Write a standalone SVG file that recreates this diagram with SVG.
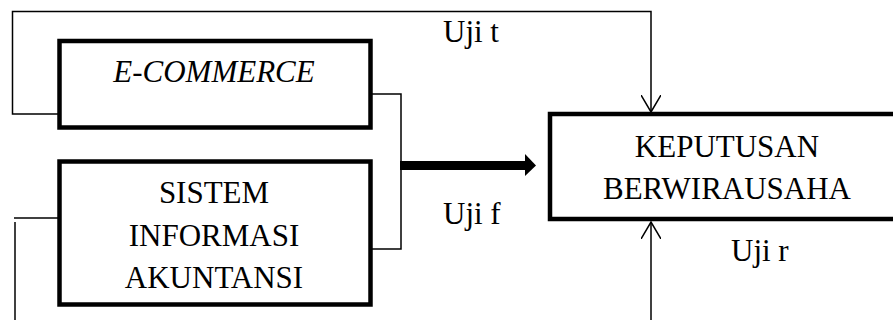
<svg xmlns="http://www.w3.org/2000/svg" width="893" height="320" viewBox="0 0 893 320">
<style>
.box{fill:#fff;stroke:#000;stroke-width:4.5}
.ln{fill:none;stroke:#000;stroke-width:1.5}
.c{text-anchor:middle}
</style>
<defs>
<marker id="open" viewBox="0 0 20 20" refX="17" refY="10" markerWidth="20" markerHeight="20" markerUnits="userSpaceOnUse" orient="auto">
<path d="M0,0 L17,10 L0,20" fill="none" stroke="#000" stroke-width="1.5"/>
</marker>
</defs>
<rect width="893" height="320" fill="#fff"/>
<g id="connectors">
<polyline class="ln" points="58,114 12.5,114 12.5,11.5 651,11.5 651,112" marker-end="url(#open)"/>
<line class="ln" x1="651" y1="320" x2="651" y2="222" marker-end="url(#open)"/>
<polyline class="ln" points="372,94 401,94 401,249 372,249"/>
<polyline class="ln" points="14,218 58,218"/>
<line class="ln" x1="15" y1="222" x2="15" y2="320"/>
<line x1="400" y1="165.5" x2="526" y2="165.5" stroke="#000" stroke-width="9"/>
<polygon points="525,154 536,165.5 525,176" fill="#000"/>
</g>
<g font-family="'Liberation Serif', 'Times New Roman', serif" font-size="31" fill="#000">
<g id="ecommerce">
<rect class="box" x="59.5" y="41" width="311" height="86.5"/>
<text class="c" x="214" y="82" font-style="italic">E-COMMERCE</text>
</g>
<g id="sia">
<rect class="box" x="59.5" y="161.5" width="311" height="143"/>
<text class="c" x="214" y="203">SISTEM</text>
<text class="c" x="214" y="246">INFORMASI</text>
<text class="c" x="214" y="288">AKUNTANSI</text>
</g>
<g id="keputusan">
<rect class="box" x="550" y="114" width="360" height="105"/>
<text class="c" x="727" y="157">KEPUTUSAN</text>
<text class="c" x="727" y="199">BERWIRAUSAHA</text>
</g>
<g id="labels">
<text x="443" y="42">Uji t</text>
<text x="443" y="224">Uji f</text>
<text x="731" y="261">Uji r</text>
</g>
</g>
</svg>
